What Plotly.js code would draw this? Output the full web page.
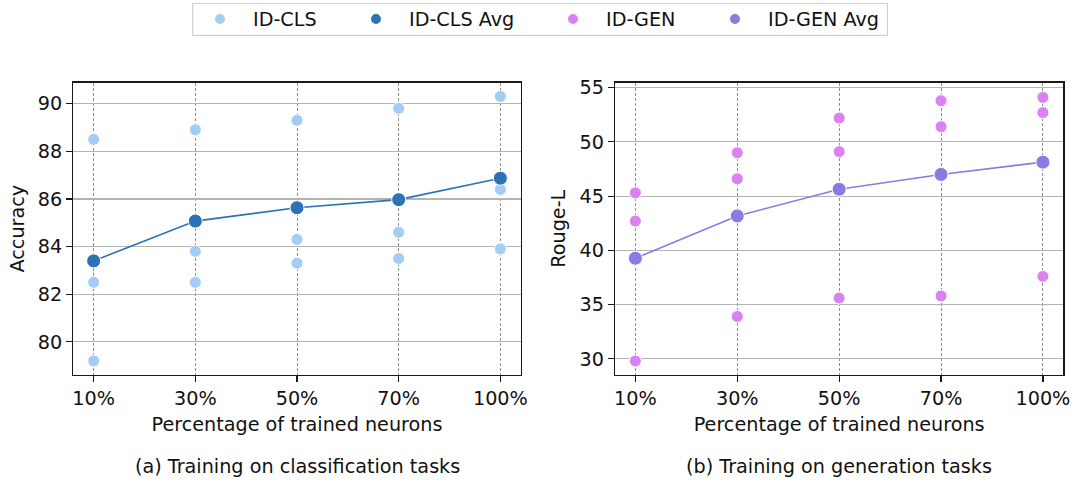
<!DOCTYPE html>
<html>
<head>
<meta charset="utf-8">
<script src="https://cdn.plot.ly/plotly-3.0.1.min.js"></script>
<style>html,body{margin:0;padding:0;background:#fff;}#chart{width:1077px;height:484px;}</style>
</head>
<body>
<div id="chart"></div>
<script>
// ---- data ----
const categories = ["10%", "30%", "50%", "70%", "100%"];
// ID-CLS individual task accuracies (three tasks per setting)
const clsTaskA = [88.5, 88.9, 89.3, 89.8, 90.3];
const clsTaskB = [82.5, 83.8, 84.3, 84.6, 86.4];
const clsTaskC = [79.2, 82.5, 83.3, 83.5, 83.9];
const clsAvg   = [83.4, 85.07, 85.63, 85.97, 86.87];
// ID-GEN individual task Rouge-L
const genTaskA = [45.3, 49.0, 52.2, 53.8, 54.1];
const genTaskB = [42.7, 46.6, 49.1, 51.4, 52.7];
const genTaskC = [29.8, 33.9, 35.6, 35.8, 37.6];
const genAvg   = [39.27, 43.17, 45.63, 47.0, 48.13];
const clsTicks = [80, 82, 84, 86, 88, 90];
const genTicks = [30, 35, 40, 45, 50, 55];

// ---- style ----
const W = 1077, H = 484;
const FONT = "DejaVu Sans, sans-serif";
const FS = 19.2;
const cLight = "#a3cdf2", cDark = "#2c72b5", cPink = "#da82f4", cPurple = "#8b7ae2";

function repeatX() { return categories.concat(categories, categories); }
function flat3(a, b, c) { return a.concat(b, c); }

const traces = [
  {x: repeatX(), y: flat3(clsTaskA, clsTaskB, clsTaskC), xaxis: "x", yaxis: "y",
   type: "scatter", mode: "markers", name: "ID-CLS", legend: "legend",
   marker: {color: cLight, size: 12, line: {color: "#fff", width: 1}}},
  {x: categories, y: clsAvg, xaxis: "x", yaxis: "y", type: "scatter", mode: "lines",
   showlegend: false, hoverinfo: "skip", line: {color: cDark, width: 1.6}},
  {x: categories, y: clsAvg, xaxis: "x", yaxis: "y", type: "scatter", mode: "markers",
   name: "ID-CLS Avg", legend: "legend2",
   marker: {color: cDark, size: 14, line: {color: "#fff", width: 1}}},
  {x: repeatX(), y: flat3(genTaskA, genTaskB, genTaskC), xaxis: "x2", yaxis: "y2",
   type: "scatter", mode: "markers", name: "ID-GEN", legend: "legend3",
   marker: {color: cPink, size: 12, line: {color: "#fff", width: 1}}},
  {x: categories, y: genAvg, xaxis: "x2", yaxis: "y2", type: "scatter", mode: "lines",
   showlegend: false, hoverinfo: "skip", line: {color: cPurple, width: 1.6}},
  {x: categories, y: genAvg, xaxis: "x2", yaxis: "y2", type: "scatter", mode: "markers",
   name: "ID-GEN Avg", legend: "legend4",
   marker: {color: cPurple, size: 14, line: {color: "#fff", width: 1}}}
];

const yDom = [1 - 374.3 / H, 1 - 81 / H];
function xAxis(dom) {
  return {
    domain: dom, type: "category", range: [-0.2, 4.2], categoryorder: "array", categoryarray: categories,
    showgrid: true, gridcolor: "#8f8f8f", gridwidth: 1, griddash: "3px,2px",
    showline: true, linecolor: "#1a1a1a", linewidth: 1.3, mirror: true,
    ticks: "outside", ticklen: 6, tickwidth: 1.2, tickcolor: "#1a1a1a",
    tickfont: {family: FONT, size: FS, color: "#111"}, zeroline: false, automargin: false,
    title: {text: "Percentage of trained neurons", font: {family: FONT, size: FS, color: "#111"}, standoff: 8}
  };
}
function yAxis(dom, ticks, range, title, anchor) {
  return {
    domain: dom, range: range, tickvals: ticks, anchor: anchor,
    showgrid: true, gridcolor: "#b4b4b4", gridwidth: 1.2,
    showline: true, linecolor: "#1a1a1a", linewidth: 1.3, mirror: true,
    ticks: "outside", ticklen: 6, tickwidth: 1.2, tickcolor: "#1a1a1a",
    tickfont: {family: FONT, size: FS, color: "#111"}, zeroline: false, automargin: false,
    title: {text: title, font: {family: FONT, size: FS, color: "#111"}, standoff: 8}
  };
}

function legendAt(px) {
  return {x: px / W, y: 1 - 17 / H, xanchor: "left", yanchor: "middle", orientation: "h",
    bgcolor: "rgba(0,0,0,0)", borderwidth: 0, itemwidth: 56, itemsizing: "constant",
    font: {family: FONT, size: FS, color: "#111"}};
}

const layout = {
  width: W, height: H, margin: {l: 0, r: 0, t: 0, b: 0},
  paper_bgcolor: "#fff", plot_bgcolor: "#fff", showlegend: true,
  font: {family: FONT, size: FS, color: "#111"},
  xaxis: Object.assign(xAxis([73.3 / W, 520.7 / W]), {anchor: "y"}),
  yaxis: yAxis(yDom, clsTicks, [78.62, 90.88], "Accuracy", "x"),
  xaxis2: Object.assign(xAxis([615 / W, 1063.3 / W]), {anchor: "y2"}),
  yaxis2: yAxis(yDom, genTicks, [28.53, 55.46], "Rouge-L", "x2"),
  legend: legendAt(187),
  legend2: legendAt(343),
  legend3: legendAt(540),
  legend4: legendAt(702),
  shapes: [{type: "rect", xref: "paper", yref: "paper",
    x0: 192.7 / W, x1: 887.5 / W, y0: 1 - 33.5 / H, y1: 1 - 1.5 / H,
    line: {color: "#d0d0d0", width: 1.2}, fillcolor: "rgba(255,255,255,0.8)", layer: "below"}],
  annotations: [
    {text: "(a) Training on classification tasks", xref: "paper", yref: "paper",
     x: 297 / W, y: 1 - 466 / H, xanchor: "center", yanchor: "middle", showarrow: false,
     font: {family: FONT, size: FS, color: "#111"}},
    {text: "(b) Training on generation tasks", xref: "paper", yref: "paper",
     x: 839 / W, y: 1 - 466 / H, xanchor: "center", yanchor: "middle", showarrow: false,
     font: {family: FONT, size: FS, color: "#111"}}
  ]
};

Plotly.newPlot("chart", traces, layout, {displayModeBar: false, staticPlot: true});
</script>
</body>
</html>
